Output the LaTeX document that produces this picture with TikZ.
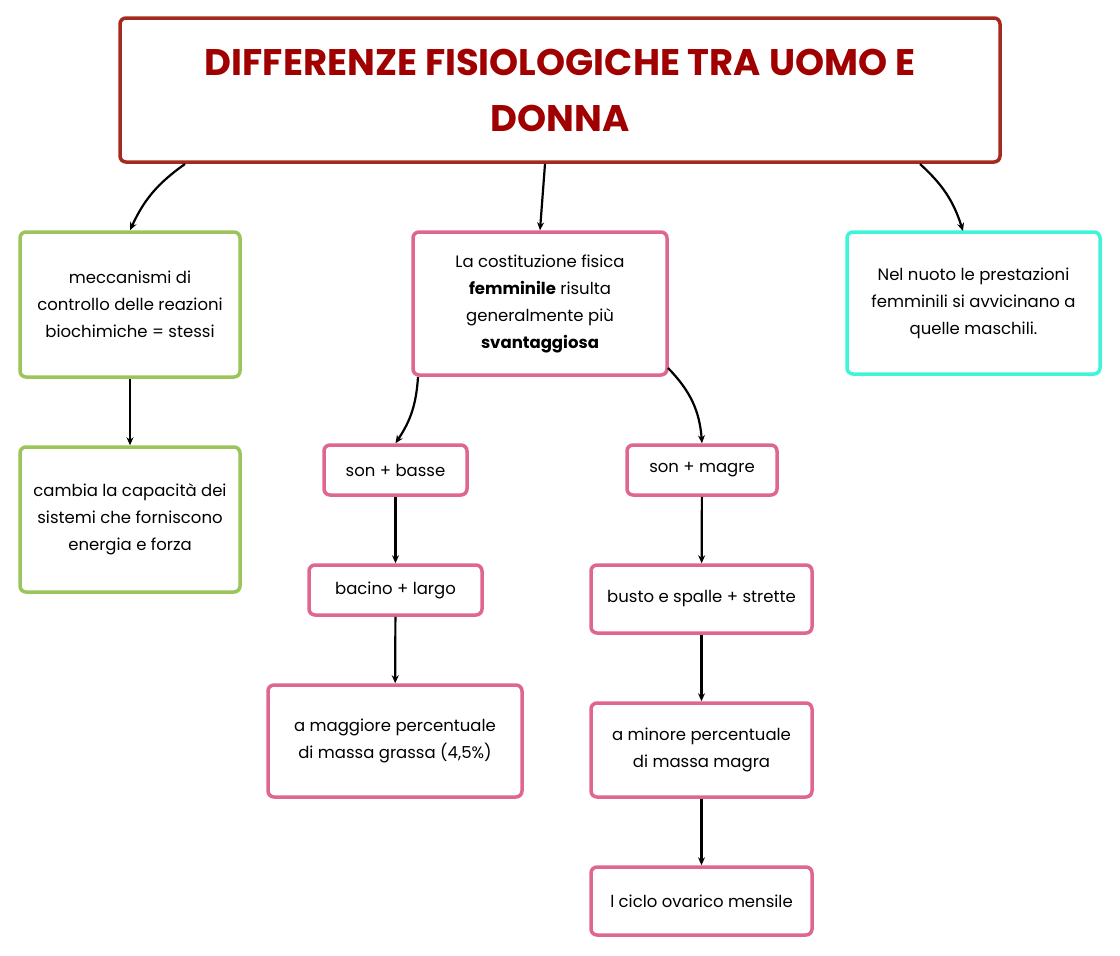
\documentclass[tikz,border=0pt]{standalone}
\usepackage{fontspec}
\setmainfont{Poppins}
\usetikzlibrary{arrows.meta}
\definecolor{tred}{HTML}{A52A1E}
\definecolor{ttext}{HTML}{A00000}
\definecolor{gr}{HTML}{9BC55A}
\definecolor{pk}{HTML}{DF6690}
\definecolor{cy}{HTML}{3FF5D9}
\tikzset{
 box/.style={draw, line width=3.5pt, rounded corners=6pt, fill=white, align=center, font=\fontsize{16.5}{27}\selectfont, inner sep=4pt},
 arr/.style={-{Stealth[length=8pt,width=7pt]}, line width=2.2pt},
}
\newcommand{\bx}[6]{\node[box,draw=#1,minimum width=#4-#2,minimum height=#5-#3] (#6) at ({(#2+#4)/2},{(#3+#5)/2})}
\begin{document}
\begin{tikzpicture}[x=1pt,y=-1pt]
\useasboundingbox (0,0) rectangle (1120,956);
\node[box,draw=tred,minimum width=880pt,minimum height=144pt,text=ttext,font=\bfseries\fontsize{37}{56}\selectfont] (t) at (560,90) {DIFFERENZE FISIOLOGICHE TRA UOMO E\\DONNA};
\bx{gr}{20}{232}{240}{377}{g1} {meccanismi di\\controllo delle reazioni\\biochimiche = stessi};
\bx{gr}{20}{447}{240}{592}{g2} {cambia la capacità dei\\sistemi che forniscono\\energia e forza};
\bx{pk}{413}{232}{667}{375}{p} {La costituzione fisica\\\textbf{femminile} risulta\\generalmente più\\\textbf{svantaggiosa}};
\bx{cy}{847}{232}{1100}{374}{c} {Nel nuoto le prestazioni\\femminili si avvicinano a\\quelle maschili.};
\bx{pk}{324}{445}{467}{495}{b1} {son + basse};
\bx{pk}{309}{565}{482}{615}{b2} {bacino + largo};
\bx{pk}{268}{685}{522}{797}{b3} {a maggiore percentuale\\di massa grassa (4,5\%)};
\bx{pk}{627}{445}{777}{495}{m1} {son + magre};
\bx{pk}{591}{565}{812}{633}{m2} {busto e spalle + strette};
\bx{pk}{591}{703}{812}{797}{m3} {a minore percentuale\\di massa magra};
\bx{pk}{591}{867}{812}{935}{m4} {l ciclo ovarico mensile};
\draw[arr] (185,164) to[bend right=15] (g1.north);
\draw[arr] (545,164) -- (p.north);
\draw[arr] (920,164) to[bend left=15] (963,231);
\draw[arr] (418,377) to[bend left=15] (b1.north);
\draw[arr] (668,368) to[bend left=20] (m1.north);
\draw[arr] (g1) -- (g2);
\draw[arr] (b1) -- (b2);
\draw[arr] (b2) -- (b3);
\draw[arr] (m1) -- (m2);
\draw[arr] (m2) -- (m3);
\draw[arr] (m3) -- (m4);
\end{tikzpicture}
\end{document}
